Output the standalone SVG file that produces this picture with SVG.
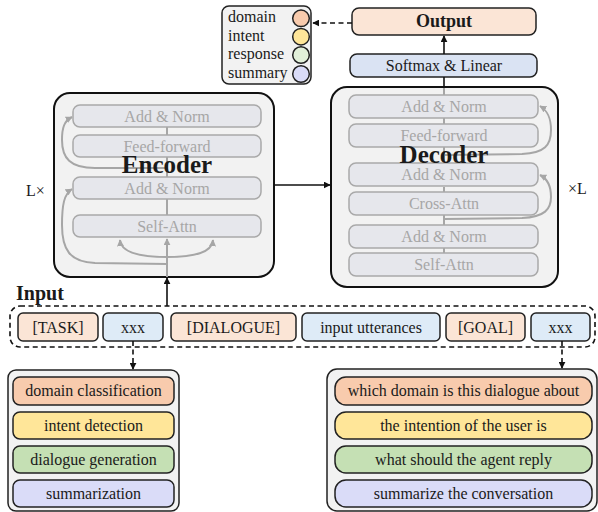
<svg xmlns="http://www.w3.org/2000/svg" width="598" height="512" viewBox="0 0 598 512">
<defs>
<marker id="ah" viewBox="0 0 10 10" refX="9" refY="5" markerWidth="7" markerHeight="7" markerUnits="userSpaceOnUse" orient="auto"><path d="M0,0 L10,5 L0,10 z" fill="#111"/></marker>
<marker id="ahg" viewBox="0 0 10 10" refX="9" refY="5" markerWidth="7" markerHeight="7" markerUnits="userSpaceOnUse" orient="auto"><path d="M0,0 L10,5 L0,10 z" fill="#a6a6a6"/></marker>
</defs>
<style>
text{font-family:"Liberation Serif","Times New Roman",serif;font-size:16px;fill:#1a1a1a}
.c{text-anchor:middle}
.b{font-weight:bold}
.blk{fill:#f2f2f2;stroke:#111;stroke-width:2}
.in{fill:#e6e7ec;stroke:#a9a9a9;stroke-width:1.5}
.gt{fill:#a6a6a6}
.box{stroke:#222;stroke-width:1.5}
.peach{fill:#fbe5d6}
.blue{fill:#deebf7}
.sm{fill:#dae3f3}
.o{fill:#f8cbad}
.y{fill:#ffe699}
.g{fill:#c5e0b4}
.p{fill:#dadcf8}
.lg{fill:#e2f0d9}
.ln{stroke:#111;stroke-width:1.6;fill:none}
.dl{stroke:#111;stroke-width:1.6;fill:none;stroke-dasharray:5,3.5}
.gl{stroke:#a6a6a6;stroke-width:2;fill:none}
</style>

<g id="legend">
<rect x="222" y="6" width="89" height="78" rx="7" class="box" fill="#f2f2f2"/>
<text x="228" y="22">domain</text>
<text x="228" y="41">intent</text>
<text x="228" y="59">response</text>
<text x="228" y="78">summary</text>
<circle cx="301" cy="18.3" r="8.3" class="box o"/>
<circle cx="301" cy="36.7" r="8.3" class="box y"/>
<circle cx="301" cy="55" r="8.3" class="box lg"/>
<circle cx="301" cy="74" r="8.3" class="box p"/>
</g>

<g id="output">
<rect x="352" y="8" width="184" height="27" rx="7" class="box peach"/>
<text x="444" y="27" class="c b" style="font-size:18px">Output</text>
</g>

<g id="softmax">
<rect x="350" y="54" width="187" height="23" rx="7" class="box sm"/>
<text x="444" y="71" class="c">Softmax &amp; Linear</text>
</g>

<g id="encoder">
<rect x="54" y="93" width="220" height="184" rx="16" class="blk"/>
<g class="gl">
<line x1="167" y1="127" x2="167" y2="135"/>
<line x1="167" y1="157" x2="167" y2="177"/>
<line x1="167" y1="199" x2="167" y2="215"/>
<line x1="167" y1="277" x2="167" y2="239" marker-end="url(#ahg)"/>
<path d="M167,257 C140,257 121,253 120,240" marker-end="url(#ahg)"/>
<path d="M167,257 C194,257 212,253 213,240" marker-end="url(#ahg)"/>
<path d="M167,264 L95,263 C70,262 62,250 62,225 C62,205 64,194 72,189" marker-end="url(#ahg)"/>
<path d="M167,168 L95,168 C70,168 62,158 62,140 C62,128 64,121 72,117" marker-end="url(#ahg)"/>
</g>
<rect x="73" y="105" width="188" height="22" rx="7" class="in"/>
<text x="167" y="121.5" class="c gt">Add &amp; Norm</text>
<rect x="73" y="135" width="188" height="22" rx="7" class="in"/>
<text x="167" y="151.5" class="c gt">Feed-forward</text>
<rect x="73" y="177" width="188" height="22" rx="7" class="in"/>
<text x="167" y="193.5" class="c gt">Add &amp; Norm</text>
<rect x="73" y="215" width="188" height="22" rx="7" class="in"/>
<text x="167" y="231.5" class="c gt">Self-Attn</text>
<text x="167" y="173" class="c b" style="font-size:25px">Encoder</text>
</g>

<g id="decoder">
<rect x="331" y="87" width="227" height="200" rx="16" class="blk"/>
<g class="gl">
<line x1="444" y1="88" x2="444" y2="95"/>
<line x1="444" y1="118" x2="444" y2="124"/>
<line x1="444" y1="147" x2="444" y2="163"/>
<line x1="444" y1="187" x2="444" y2="192"/>
<line x1="444" y1="215" x2="444" y2="225"/>
<line x1="444" y1="248" x2="444" y2="253"/>
<path d="M444,155 L522,154 C545,153 551,145 551,130 C551,118 548,111 540,106" marker-end="url(#ahg)"/>
<path d="M444,219 L522,218 C545,217 551,209 551,197 C551,186 548,179 540,175" marker-end="url(#ahg)"/>
</g>
<rect x="349" y="95" width="189" height="23" rx="7" class="in"/>
<text x="444" y="112" class="c gt">Add &amp; Norm</text>
<rect x="349" y="124" width="189" height="23" rx="7" class="in"/>
<text x="444" y="141" class="c gt">Feed-forward</text>
<rect x="349" y="163" width="189" height="23" rx="7" class="in"/>
<text x="444" y="180" class="c gt">Add &amp; Norm</text>
<rect x="349" y="192" width="189" height="23" rx="7" class="in"/>
<text x="444" y="209" class="c gt">Cross-Attn</text>
<rect x="349" y="225" width="189" height="23" rx="7" class="in"/>
<text x="444" y="242" class="c gt">Add &amp; Norm</text>
<rect x="349" y="253" width="189" height="23" rx="7" class="in"/>
<text x="444" y="270" class="c gt">Self-Attn</text>
<text x="444" y="163" class="c b" style="font-size:25px">Decoder</text>
</g>

<g id="labels">
<text x="26" y="196">L×</text>
<text x="568" y="194">×L</text>
<text x="16" y="300" class="b" style="font-size:20px">Input</text>
</g>

<g id="input">
<rect x="10" y="306" width="585" height="41" rx="10" class="dl"/>
<rect x="18" y="313" width="80" height="28" rx="5" class="box peach"/>
<text x="58" y="333" class="c">[TASK]</text>
<rect x="103" y="313" width="60" height="28" rx="5" class="box blue"/>
<text x="133" y="333" class="c">xxx</text>
<rect x="171" y="313" width="125" height="28" rx="5" class="box peach"/>
<text x="233.5" y="333" class="c">[DIALOGUE]</text>
<rect x="302" y="313" width="138" height="28" rx="5" class="box blue"/>
<text x="371" y="333" class="c">input utterances</text>
<rect x="446" y="313" width="79" height="28" rx="5" class="box peach"/>
<text x="485.5" y="333" class="c">[GOAL]</text>
<rect x="531" y="313" width="59" height="28" rx="5" class="box blue"/>
<text x="560.5" y="333" class="c">xxx</text>
</g>

<g id="tasks">
<rect x="8" y="370" width="171" height="141" rx="8" class="box" fill="#f2f2f2"/>
<rect x="13" y="377" width="161" height="28" rx="7" class="box o"/>
<text x="93.5" y="396" class="c">domain classification</text>
<rect x="13" y="412" width="161" height="27" rx="7" class="box y"/>
<text x="93.5" y="430.5" class="c">intent detection</text>
<rect x="13" y="446" width="161" height="27" rx="7" class="box g"/>
<text x="93.5" y="464.5" class="c">dialogue generation</text>
<rect x="13" y="480" width="161" height="27" rx="7" class="box p"/>
<text x="93.5" y="498.5" class="c">summarization</text>
</g>

<g id="prompts">
<rect x="327" y="369" width="270" height="142" rx="10" class="box" fill="#f2f2f2"/>
<rect x="335" y="377" width="257" height="28" rx="11" class="box o"/>
<text x="463.5" y="396" class="c">which domain is this dialogue about</text>
<rect x="335" y="412" width="257" height="27" rx="11" class="box y"/>
<text x="463.5" y="430.5" class="c">the intention of the user is</text>
<rect x="335" y="446" width="257" height="27" rx="11" class="box g"/>
<text x="463.5" y="464.5" class="c">what should the agent reply</text>
<rect x="335" y="480" width="257" height="27" rx="11" class="box p"/>
<text x="463.5" y="498.5" class="c">summarize the conversation</text>
</g>

<g id="connectors">
<line x1="444" y1="54" x2="444" y2="36" class="ln" marker-end="url(#ah)"/>
<line x1="444" y1="77" x2="444" y2="88" class="ln"/>
<line x1="352" y1="23" x2="313" y2="23" class="dl" marker-end="url(#ah)"/>
<line x1="274" y1="185" x2="330" y2="185" class="ln" marker-end="url(#ah)"/>
<line x1="167" y1="306" x2="167" y2="278" class="ln" marker-end="url(#ah)"/>
<line x1="133" y1="341" x2="133" y2="369" class="dl" marker-end="url(#ah)"/>
<line x1="562" y1="341" x2="562" y2="368" class="dl" marker-end="url(#ah)"/>
</g>
</svg>
